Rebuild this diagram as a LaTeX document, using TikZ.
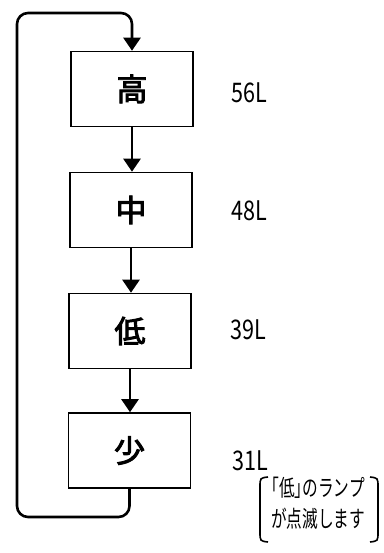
\documentclass[tikz,border=0pt]{standalone}
\usepackage{fontspec}
\setmainfont{Noto Sans CJK JP}
\newfontfamily\jpf{Noto Sans CJK JP}
\newfontfamily\jpn{Noto Sans CJK JP}[FakeStretch=0.68]
\newfontfamily\jpl{Noto Sans CJK JP}[FakeStretch=0.8]
\newfontfamily\jpb{Noto Sans CJK JP}[FakeBold=3]
\usetikzlibrary{arrows.meta}
\begin{document}
\begin{tikzpicture}[x=1pt,y=-1pt,
  box/.style={draw,line width=1.6pt,minimum width=122pt,minimum height=75pt,inner sep=0pt,font=\jpb\fontsize{31}{31}\selectfont},
  conn/.style={line width=2.6pt,-{Triangle[width=17pt,length=13pt]}},
  lab/.style={anchor=west,inner sep=0pt,font=\jpl\fontsize{27}{27}\selectfont},
  note/.style={inner sep=0pt,font=\jpn\fontsize{23}{23}\selectfont},
  paren/.style={line width=1.6pt}]
\useasboundingbox (0,0) rectangle (383,553);
\node[box] (h) at (132,89) {高};
\node[box] (m) at (131,210) {中};
\node[box] (l) at (130,331) {低};
\node[box] (s) at (129.5,450.5) {少};
\coordinate (bl) at (17,517);
\coordinate (tl) at (17,13);
\draw[conn] (h.south) -- (h.south |- m.north);
\draw[conn] (m.south) -- (m.south |- l.north);
\draw[conn] (l.south) -- (l.south |- s.north);
\draw[conn,rounded corners=11pt] (s.south) |- (bl) -- (tl) -| (h.north);
\node[lab] (t1) at (231,93) {56L};
\node[lab] (t2) at (231,211) {48L};
\node[lab] (t3) at (230,330) {39L};
\node[lab] (t4) at (232,461) {31L};
\node[note] (n1) at (318,488) {｢低｣のランプ};
\node[note] (n2) at (318,519) {が点滅します};
\coordinate (pl1) at (268,477);
\coordinate (pl2) at (268,542);
\coordinate (pr1) at (370,477);
\coordinate (pr2) at (370,542);
\draw[paren] (pl1) .. controls (260,478) .. (260,487) -- (260,532) .. controls (260,541) .. (pl2);
\draw[paren] (pr1) .. controls (378,478) .. (378,487) -- (378,532) .. controls (378,541) .. (pr2);
\end{tikzpicture}
\end{document}
